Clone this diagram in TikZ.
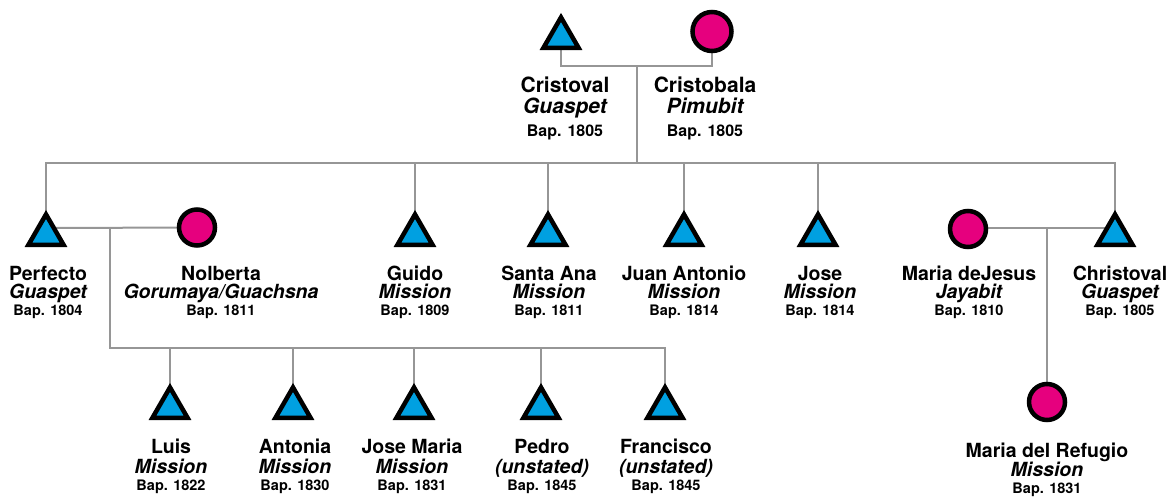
\documentclass[tikz,border=0pt]{standalone}
\usepackage{fontspec}
\setmainfont{TeX Gyre Heros}
\usetikzlibrary{shapes.geometric,backgrounds}
\definecolor{tblue}{RGB}{0,160,225}
\definecolor{tpink}{RGB}{230,0,126}
\definecolor{lgrey}{RGB}{150,150,150}
\tikzset{
  male/.style={regular polygon, regular polygon sides=3, minimum size=40.6pt, inner sep=0pt, outer sep=0pt, draw=black, line width=4.5pt, fill=tblue},
  female/.style={circle, minimum size=36pt, inner sep=0pt, outer sep=0pt, draw=black, line width=4.5pt, fill=tpink},
  conn/.style={draw=lgrey, line width=2pt},
  nmB/.style={font=\fontsize{21}{21}\selectfont\bfseries, inner sep=0pt},
  itB/.style={font=\fontsize{21}{21}\selectfont\bfseries\itshape, inner sep=0pt},
  bpB/.style={font=\fontsize{16}{16}\selectfont\bfseries, inner sep=0pt},
  nmS/.style={font=\fontsize{19.5}{19.5}\selectfont\bfseries, inner sep=0pt},
  itS/.style={font=\fontsize{19.5}{19.5}\selectfont\bfseries\itshape, inner sep=0pt},
  bpS/.style={font=\fontsize{14.5}{14.5}\selectfont\bfseries, inner sep=0pt},
}
\newcommand\plab[9]{%
  \node[nm#9, anchor=base] (#1a) at (#2,-#3) {#6};
  \node[it#9, anchor=base] (#1b) at (#2,-#4) {#7};
  \node[bp#9, anchor=base] (#1c) at (#2,-#5) {#8};
}
\begin{document}
\begin{tikzpicture}[x=1pt,y=1pt]
\useasboundingbox (0,0) rectangle (1167,-498);
% generation 1
\node[male] (cris) at (561,-37.7) {};
\node[female, minimum size=39pt] (crb) at (712,-31.5) {};
% generation 2
\node[male] (perf) at (46,-234.7) {};
\node[female] (nol) at (197,-227.5) {};
\node[male] (guido) at (415,-234.7) {};
\node[male] (santa) at (548,-234.7) {};
\node[male] (juan) at (684,-234.7) {};
\node[male] (jose) at (818,-234.7) {};
\node[female] (mdj) at (968,-229) {};
\node[male] (chr) at (1115,-234.7) {};
% generation 3
\node[male] (luis) at (170,-407.7) {};
\node[male] (anto) at (293,-407.7) {};
\node[male] (jmar) at (414,-407.7) {};
\node[male] (pedro) at (541,-407.7) {};
\node[male] (fran) at (665,-407.7) {};
\node[female] (refu) at (1047,-402) {};
% junction coordinates
\coordinate (m1) at (637,-66);
\coordinate (s0) at (637,-163);
\coordinate (m2) at (110,-228);
\coordinate (k0) at (110,-348);
\coordinate (m3) at (1047,-228);
\begin{pgfonlayer}{background}
  \draw[conn] (cris.center) |- (m1) -| (crb.center);
  \draw[conn] (m1) -- (s0);
  \draw[conn] (perf.center) |- (s0) -| (chr.center);
  \foreach \c in {guido,santa,juan,jose} \draw[conn] (\c.center |- s0) -- (\c.center);
  \draw[conn] (perf.center |- m2) -- (nol.center);
  \draw[conn] (m2) -- (k0) -| (fran.center);
  \foreach \c in {luis,anto,jmar,pedro} \draw[conn] (\c.center |- k0) -- (\c.center);
  \draw[conn] (mdj.center |- m3) -- (chr.center |- m3);
  \draw[conn] (m3) -- (refu.center);
\end{pgfonlayer}
% labels
\plab{lcris}{565}{92}{113}{136}{Cristoval}{Guaspet}{Bap. 1805}{B}
\plab{lcrb}{705}{92}{113}{136}{Cristobala}{Pimubit}{Bap. 1805}{B}
\plab{lperf}{48}{280}{298}{315}{Perfecto}{Guaspet}{Bap. 1804}{S}
\plab{lnol}{221}{280}{298}{315}{Nolberta}{Gorumaya/Guachsna}{Bap. 1811}{S}
\plab{lguido}{415}{280}{298}{315}{Guido}{Mission}{Bap. 1809}{S}
\plab{lsanta}{549}{280}{298}{315}{Santa Ana}{Mission}{Bap. 1811}{S}
\plab{ljuan}{684}{280}{298}{315}{Juan Antonio}{Mission}{Bap. 1814}{S}
\plab{ljose}{820}{280}{298}{315}{Jose}{Mission}{Bap. 1814}{S}
\plab{lmdj}{969}{280}{298}{315}{Maria deJesus}{Jayabit}{Bap. 1810}{S}
\plab{lchr}{1120}{280}{298}{315}{Christoval}{Guaspet}{Bap. 1805}{S}
\plab{lluis}{171}{453}{473}{490}{Luis}{Mission}{Bap. 1822}{S}
\plab{lanto}{295}{453}{473}{490}{Antonia}{Mission}{Bap. 1830}{S}
\plab{ljmar}{412}{453}{473}{490}{Jose Maria}{Mission}{Bap. 1831}{S}
\plab{lpedro}{542}{453}{473}{490}{Pedro}{(unstated)}{Bap. 1845}{S}
\plab{lfran}{666}{453}{473}{490}{Francisco}{(unstated)}{Bap. 1845}{S}
\plab{lrefu}{1047}{457}{476}{493}{Maria del Refugio}{Mission}{Bap. 1831}{S}
\end{tikzpicture}
\end{document}
